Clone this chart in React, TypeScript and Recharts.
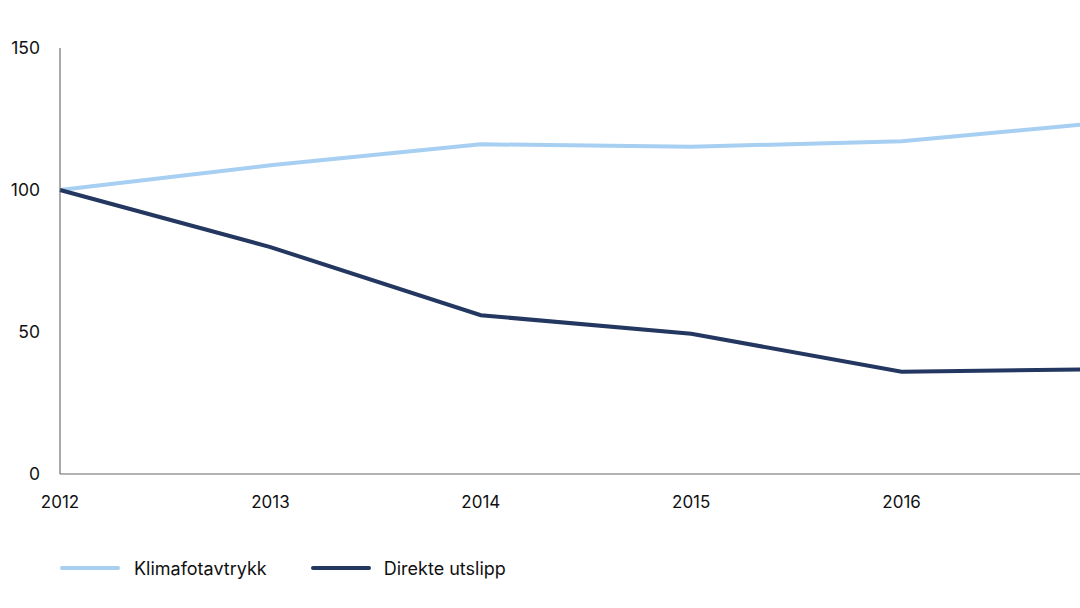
import { LineChart, Line, XAxis, YAxis, Legend } from 'recharts'

const years = ['2012', '2013', '2014', '2015', '2016', '2017']
const klimafotavtrykk = [100, 108.7, 116.1, 115.2, 117.2, 124]
const direkteUtslipp = [100, 79.9, 55.9, 49.4, 36.0, 36.9]
const yTicks = [0, 50, 100, 150]

const LIGHT = '#a6cff2'
const NAVY = '#233760'
const FONT = 'Inter, "Noto Sans", sans-serif'
const VISIBLE_WIDTH = 1080

const chartData = years.map((year, i) => ({
    year,
    klima: klimafotavtrykk[i],
    direkte: direkteUtslipp[i],
}))

// the chart runs past the right edge, so labels that fall outside are not drawn
const YearTick = (props: any) => {
    const { x, y, payload } = props
    if (x + 20 > VISIBLE_WIDTH) return null
    return (
        <text x={x} y={y} dy={12} textAnchor="middle" fill="#111" fontSize={17} fontFamily={FONT}>
            {payload.value}
        </text>
    )
}

const renderLegend = () => (
    <div style={{ display: 'flex', alignItems: 'center', height: 40, fontFamily: FONT, fontSize: 18, color: '#111' }}>
        <span style={{ display: 'inline-block', width: 60, height: 4, borderRadius: 2, background: LIGHT, marginRight: 14 }} />
        <span style={{ marginRight: 44 }}>Klimafotavtrykk</span>
        <span style={{ display: 'inline-block', width: 60, height: 4, borderRadius: 2, background: NAVY, marginRight: 13 }} />
        <span>Direkte utslipp</span>
    </div>
)

export default function App() {
    return (
        <div style={{ position: 'absolute', left: 0, top: 0, width: VISIBLE_WIDTH, height: 608, overflow: 'hidden', background: '#fff' }}>
            <LineChart
                width={1140}
                height={608}
                data={chartData}
                margin={{ top: 48, right: 28, left: 0, bottom: 20 }}
            >
                <XAxis
                    dataKey="year"
                    tickLine={false}
                    axisLine={{ stroke: '#999', strokeWidth: 1.5 }}
                    tick={<YearTick />}
                    tickMargin={16}
                    height={74}
                    interval={0}
                />
                <YAxis
                    domain={[0, 150]}
                    ticks={yTicks}
                    width={60}
                    tickLine={false}
                    axisLine={{ stroke: '#555', strokeWidth: 1 }}
                    tick={{ fill: '#111', fontSize: 17.5, fontFamily: FONT }}
                    tickMargin={14}
                />
                <Legend
                    verticalAlign="bottom"
                    align="left"
                    content={renderLegend}
                    wrapperStyle={{ left: 60 }}
                />
                <Line
                    type="linear"
                    dataKey="klima"
                    name="Klimafotavtrykk"
                    stroke={LIGHT}
                    strokeWidth={4}
                    dot={false}
                    isAnimationActive={false}
                />
                <Line
                    type="linear"
                    dataKey="direkte"
                    name="Direkte utslipp"
                    stroke={NAVY}
                    strokeWidth={4}
                    dot={false}
                    isAnimationActive={false}
                />
            </LineChart>
        </div>
    )
}
